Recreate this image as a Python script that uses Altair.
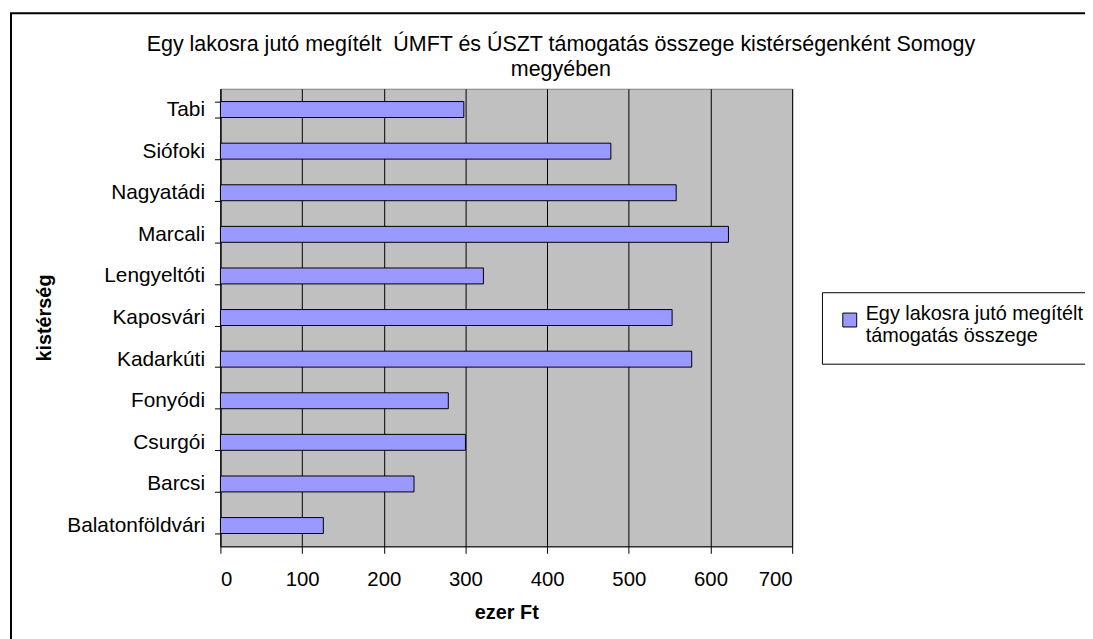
import altair as alt
import pandas as pd

categories = ["Tabi", "Siófoki", "Nagyatádi", "Marcali", "Lengyeltóti", "Kaposvári",
              "Kadarkúti", "Fonyódi", "Csurgói", "Barcsi", "Balatonföldvári"]
values = [298, 478, 558, 622, 322, 553, 577, 279, 300, 237, 126]
series_name = "Egy lakosra jutó megítélt támogatás összege"
legend_lines = ["Egy lakosra jutó megítélt", "támogatás összege"]
title_lines = ["Egy lakosra jutó megítélt\u00a0 ÚMFT és ÚSZT támogatás összege kistérségenként Somogy",
               "megyében"]
x_ticks = [0, 100, 200, 300, 400, 500, 600, 700]

df = pd.DataFrame({"kisterseg": categories, "ertek": values, "sorozat": series_name})

FONT = "Liberation Sans"
W, H = 576, 461

legend_expr = "[" + ", ".join("'" + s + "'" for s in legend_lines) + "]"

bars = alt.Chart(df).mark_bar(stroke="black", strokeWidth=1).encode(
    y=alt.Y("kisterseg:N", sort=categories,
            scale=alt.Scale(paddingInner=0.617, paddingOuter=0.3085),
            axis=alt.Axis(title="kistérség", tickBand="extent", tickSize=6, tickColor="black",
                          domainColor="black", labelFontSize=21, labelFont=FONT, labelColor="black",
                          labelPadding=10, grid=False, titleFont=FONT, titleFontSize=20,
                          titleFontWeight="bold", titleColor="black", titleAngle=270,
                          titleX=-177, titleY=H / 2, titleAlign="center", titleBaseline="middle")),
    x=alt.X("ertek:Q", scale=alt.Scale(domain=[0, 700], nice=False),
            axis=alt.Axis(title="ezer Ft", values=x_ticks, tickSize=7, tickColor="black",
                          domainColor="black", grid=True, gridColor="black", gridWidth=1,
                          labelFontSize=20.5, labelFont=FONT, labelColor="black", labelPadding=16,
                          titleFont=FONT, titleFontSize=20, titleFontWeight="bold",
                          titleColor="black", titleX=W / 2, titleY=67, titleBaseline="middle")),
    color=alt.Color("sorozat:N", scale=alt.Scale(domain=[series_name], range=["#9999FF"]),
                    legend=alt.Legend(title=None, orient="none", legendX=606, legendY=205,
                                      strokeColor="black", fillColor="white", padding=18,
                                      symbolType="square", symbolSize=196,
                                      symbolStrokeColor="black", symbolStrokeWidth=1,
                                      symbolFillColor="#9999FF",
                                      labelFontSize=20, labelFont=FONT, labelColor="black",
                                      labelLimit=500, labelOffset=6, labelBaseline="alphabetic",
                                      labelExpr=legend_expr)),
)

frame_df = pd.DataFrame({"f": [1]})
frame = alt.Chart(frame_df).mark_rect(fill=None, stroke="black", strokeWidth=2, clip=False).encode(
    x=alt.value(-211), x2=alt.value(1000), y=alt.value(-76), y2=alt.value(700)
)

chart = alt.layer(frame, bars).properties(
    width=W, height=H,
    title=alt.TitleParams(text=title_lines, anchor="middle", frame="group", font=FONT,
                          fontSize=21.6, fontWeight="normal", color="black", dx=55, dy=69,
                          lineHeight=25, offset=0),
    padding={"left": 214, "top": 79, "right": 295, "bottom": 91},
    autosize=alt.AutoSizeParams(type="none"),
).configure_view(fill="#C0C0C0", stroke="#808080", strokeWidth=1)

chart.save("out.html", embed_options={"renderer": "svg", "actions": False})
